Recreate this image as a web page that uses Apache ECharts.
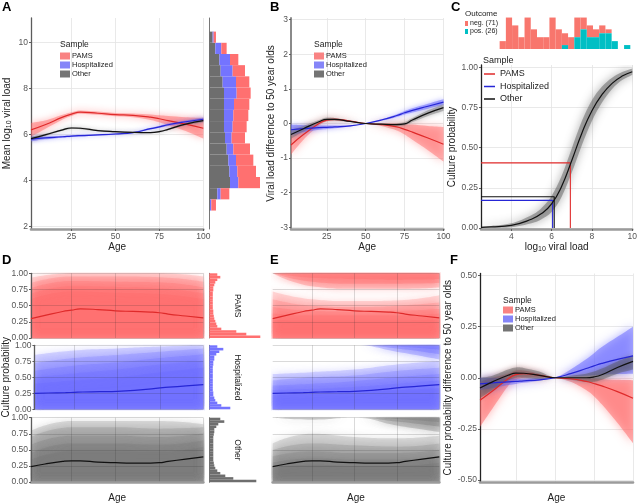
<!DOCTYPE html>
<html><head><meta charset="utf-8">
<script src="https://cdn.jsdelivr.net/npm/echarts@6/dist/echarts.min.js"></script>
<style>html,body{margin:0;padding:0;background:#fff}#c{width:640px;height:504px}</style>
</head><body><div id="c"></div>
<script>
// ================= DATA =================
const ages = [2, 10, 20, 25, 30, 40, 50, 60, 70, 75, 80, 90, 100];
// Panel A: mean log10 viral load by age
const aPams  = [6.2, 6.42, 6.75, 6.88, 6.97, 6.92, 6.86, 6.83, 6.75, 6.68, 6.6, 6.45, 6.27];
const aPamsW = [0.3, 0.18, 0.1, 0.08, 0.07, 0.07, 0.07, 0.08, 0.12, 0.15, 0.2, 0.3, 0.45];
const aHosp  = [5.8, 5.85, 5.9, 5.93, 5.95, 5.98, 6.02, 6.08, 6.25, 6.33, 6.42, 6.55, 6.66];
const aHospW = [0.1, 0.06, 0.04, 0.04, 0.04, 0.03, 0.03, 0.03, 0.04, 0.04, 0.05, 0.06, 0.08];
const aOther = [5.82, 5.98, 6.2, 6.28, 6.27, 6.17, 6.12, 6.09, 6.08, 6.12, 6.22, 6.45, 6.6];
const aOtherW= [0.08, 0.05, 0.04, 0.04, 0.04, 0.03, 0.03, 0.03, 0.03, 0.04, 0.04, 0.05, 0.07];
// Panel A marginal histogram (bins bottom -> top)
const aHistStart = 2.7, aHistWidth = 0.485;
const aHistOther = [2, 24, 62, 60, 57, 52, 47, 44, 44, 44, 44, 40, 34, 30, 18, 10];
const aHistHosp  = [4, 10, 25, 24, 23, 20, 20, 26, 28, 30, 38, 40, 36, 32, 18, 3];
const aHistPams  = [14, 26, 65, 56, 52, 50, 40, 42, 45, 46, 42, 40, 37, 25, 16, 7];
// Panel B: viral load difference to 50 year olds
const bPams  = [-0.62, -0.32, 0.0, 0.1, 0.12, 0.07, 0, -0.03, -0.1, -0.17, -0.25, -0.42, -0.6];
const bPamsW = [0.28, 0.15, 0.06, 0.04, 0.04, 0.02, 0, 0.04, 0.1, 0.15, 0.22, 0.35, 0.5];
const bHosp  = [-0.18, -0.15, -0.12, -0.11, -0.1, -0.07, 0, 0.1, 0.23, 0.31, 0.38, 0.5, 0.62];
const bHospW = [0.15, 0.1, 0.06, 0.05, 0.04, 0.02, 0, 0.02, 0.04, 0.05, 0.06, 0.07, 0.08];
const bOther = [-0.32, -0.15, 0.05, 0.12, 0.12, 0.06, 0, -0.02, -0.03, -0.01, 0.1, 0.3, 0.46];
const bOtherW= [0.12, 0.08, 0.05, 0.05, 0.04, 0.02, 0, 0.02, 0.04, 0.05, 0.06, 0.08, 0.1];
// Panel C: culture probability vs viral load
const cLoad  = [2.5, 3, 4, 5, 5.5, 6, 6.5, 7, 7.5, 8, 8.5, 9, 9.5, 10];
const cProb  = [0.004, 0.007, 0.017, 0.055, 0.09, 0.15, 0.26, 0.42, 0.59, 0.73, 0.83, 0.9, 0.945, 0.972];
const cProbW = [0.004, 0.006, 0.012, 0.025, 0.035, 0.05, 0.065, 0.075, 0.075, 0.065, 0.05, 0.035, 0.025, 0.02];
const cRefLoad = [6.93, 6.05, 6.13];   // PAMS, Hospitalized, Other
const cRefProb = [0.405, 0.172, 0.195];
const cHistStart = 3.42, cHistWidth = 0.307;
const cHistNeg = [2, 8, 6, 3, 8, 5, 3, 3, 8, 5, 3, 3, 5, 3, 3, 2, 2, 1, 0, 0, 0];
const cHistPos = [0, 0, 0, 0, 0, 0, 0, 0, 0, 0, 1, 0, 3, 5, 3, 3, 4, 4, 2, 0, 1];
// Panels D/E: culture probability by age (median lines)
const dPams  = [0.3, 0.35, 0.41, 0.43, 0.45, 0.44, 0.42, 0.41, 0.4, 0.39, 0.37, 0.34, 0.31];
const dHosp  = [0.25, 0.255, 0.26, 0.265, 0.27, 0.275, 0.28, 0.295, 0.32, 0.335, 0.345, 0.365, 0.385];
const dOther = [0.24, 0.28, 0.32, 0.33, 0.33, 0.31, 0.3, 0.295, 0.295, 0.3, 0.32, 0.355, 0.39];
const fanAges = [2, 25, 50, 75, 100];
// D fan: upper edges of nested bands from 0 (outer -> inner)
const dPamsFan  = [[0.93,1.0,1.0,1.0,0.95],[0.85,0.95,0.95,0.94,0.87],[0.77,0.88,0.87,0.86,0.78],[0.68,0.8,0.79,0.77,0.69],[0.6,0.72,0.7,0.68,0.6]];
const dHospFan  = [[0.85,0.92,0.95,0.98,1.0],[0.72,0.8,0.85,0.9,0.95],[0.6,0.68,0.73,0.8,0.86],[0.5,0.56,0.62,0.7,0.76],[0.4,0.45,0.5,0.58,0.65]];
const dOtherFan = [[0.8,0.95,0.95,0.95,0.9],[0.7,0.85,0.85,0.83,0.85],[0.58,0.72,0.72,0.7,0.76],[0.45,0.6,0.6,0.58,0.65],[0.35,0.48,0.48,0.47,0.55]];
// E fan: bands from 0 and bands down from 1
const ePamsFan  = [[0.72,0.6,0.57,0.58,0.66],[0.6,0.5,0.48,0.5,0.55],[0.48,0.42,0.41,0.42,0.45],[0.38,0.35,0.35,0.35,0.38],[0.28,0.27,0.27,0.27,0.29]];
const ePamsTop  = [[1.0,0.8,0.76,0.76,0.78],[1.0,0.87,0.84,0.84,0.85],[1.0,0.93,0.91,0.9,0.91]];
const eHospFan  = [[0.55,0.58,0.62,0.7,0.75],[0.45,0.5,0.53,0.6,0.65],[0.37,0.4,0.44,0.5,0.55],[0.3,0.32,0.35,0.4,0.45],[0.22,0.24,0.26,0.3,0.33]];
const eHospTop  = [[1.0,1.0,1.0,0.9,0.78],[1.0,1.0,1.0,0.95,0.86],[1.0,1.0,1.0,0.98,0.93]];
const eOtherFan = [[0.6,0.75,0.7,0.68,0.72],[0.5,0.6,0.57,0.55,0.6],[0.4,0.48,0.45,0.45,0.5],[0.3,0.37,0.35,0.35,0.4],[0.22,0.27,0.25,0.25,0.3]];
const eOtherTop = [[1.0,0.97,1.0,0.88,0.78],[1.0,0.99,1.0,0.94,0.86],[1.0,1.0,1.0,0.98,0.93]];
// D marginal histograms of culture probability (bins of 0.04, bottom -> top)
const dHistStart = 0, dHistWidth = 0.04;
const dHistPams  = [51, 37, 27, 12, 8, 7, 6, 5, 4.5, 4, 4, 3.5, 3.5, 3.5, 3.5, 3.5, 3.5, 3.5, 4, 4, 5, 6, 8, 11, 8];
const dHistHosp  = [21, 12, 8, 6, 5, 4, 4, 3.5, 3.5, 3.5, 3.5, 3.5, 3.5, 3.5, 3.5, 3.5, 3.5, 4, 4, 5, 5, 7, 10, 14, 8];
const dHistOther = [47, 24, 16, 11, 8, 6, 5, 4.5, 4, 4, 4, 4, 4, 4, 4, 4, 4, 4, 4.5, 5, 5, 7, 9, 15, 11];
// Panel F: culture probability difference to 50 year olds
const fPams   = [-0.11, -0.065, -0.005, 0.015, 0.02, 0.012, 0, -0.005, -0.018, -0.028, -0.04, -0.068, -0.1];
const fPamsHi = [-0.02, 0.0, 0.02, 0.035, 0.035, 0.02, 0, 0.0, -0.002, -0.004, -0.006, -0.01, -0.012];
const fPamsLo = [-0.24, -0.15, -0.04, -0.01, 0.0, 0.0, 0, -0.02, -0.06, -0.09, -0.13, -0.22, -0.32];
const fHosp   = [-0.03, -0.025, -0.02, -0.018, -0.015, -0.01, 0, 0.02, 0.045, 0.058, 0.07, 0.09, 0.107];
const fHospHi = [0.0, 0.0, -0.005, -0.005, -0.005, 0, 0, 0.04, 0.09, 0.12, 0.15, 0.2, 0.25];
const fHospLo = [-0.06, -0.05, -0.035, -0.03, -0.025, -0.015, 0, 0.005, 0.01, 0.012, 0.015, 0.018, 0.02];
const fOther  = [-0.05, -0.02, 0.012, 0.023, 0.022, 0.012, 0, 0.0, 0.0, 0.004, 0.015, 0.05, 0.08];
const fOtherHi= [0.0, 0.01, 0.04, 0.05, 0.048, 0.03, 0, 0.01, 0.02, 0.03, 0.045, 0.08, 0.11];
const fOtherLo= [-0.1, -0.06, -0.015, 0.0, 0.0, -0.005, 0, -0.01, -0.02, -0.02, -0.01, 0.02, 0.04];
const ageTicks = [25, 50, 75, 100];
const groups = ['PAMS', 'Hospitalized', 'Other'];

// ================= STYLE / BUILD =================
const FONT = 'Liberation Sans';
const LINE = {PAMS:'#df2a2a', Hospitalized:'#2626d6', Other:'#111111'};
const FILL = {PAMS:'#ff6464', Hospitalized:'#6464ff', Other:'#6a6a6a'};
const KEY  = {PAMS:'#f98383', Hospitalized:'#8585f8', Other:'#747474'};
const HIST = {PAMS:'#ff7070', Hospitalized:'#7474ff', Other:'#6e6e6e'};

function merge(a, b) {
  for (const k in b) {
    if (b[k] && typeof b[k] === 'object' && !Array.isArray(b[k]) && a[k] && typeof a[k] === 'object' && !Array.isArray(a[k])) merge(a[k], b[k]);
    else a[k] = b[k];
  }
  return a;
}
function axisBase() {
  return {type:'value', nameLocation:'middle',
    axisLine:{show:true, onZero:false, lineStyle:{color:'#5c5c5c', width:1.3}},
    axisTick:{show:true, length:2, lineStyle:{color:'#5c5c5c'}},
    axisLabel:{color:'#555', fontSize:8.5, fontFamily:FONT, margin:3},
    splitLine:{show:true, lineStyle:{color:'#e3e3e3', width:0.8}},
    nameTextStyle:{color:'#222', fontSize:10, fontFamily:FONT}};
}
const grids = [], xAxes = [], yAxes = [], series = [];
function addGrid(box, xo, yo) {
  const gi = grids.length;
  grids.push(box);
  xAxes.push(merge(merge(axisBase(), {gridIndex:gi}), xo));
  yAxes.push(merge(merge(axisBase(), {gridIndex:gi}), yo));
  return gi;
}
const bottomLine = {lineStyle:{color:'#9b9b9b', width:2.6}};
const hidden = {show:false};
const subRich = {s:{fontSize:7, fontFamily:FONT, color:'#222', verticalAlign:'bottom', padding:[5,0,0,0]}};

function line(name, gi, xs, ys, z) {
  return {type:'line', name, xAxisIndex:gi, yAxisIndex:gi, smooth:true, symbol:'none', silent:true,
    data:xs.map((x,i)=>[x, ys[i]]), lineStyle:{color:LINE[name], width:1.2}, itemStyle:{color:LINE[name]}, z:z||6};
}
// smooth path through pixel points (Catmull-Rom as cubic Bezier)
function smoothPath(pts, start) {
  let d = (start ? 'M' : 'L') + pts[0][0] + ' ' + pts[0][1];
  for (let i = 0; i < pts.length - 1; i++) {
    const p0 = pts[i-1] || pts[i], p1 = pts[i], p2 = pts[i+1], p3 = pts[i+2] || pts[i+1];
    d += ' C' + (p1[0] + (p2[0]-p0[0])/6) + ' ' + (p1[1] + (p2[1]-p0[1])/6) + ' ' +
         (p2[0] - (p3[0]-p1[0])/6) + ' ' + (p2[1] - (p3[1]-p1[1])/6) + ' ' + p2[0] + ' ' + p2[1];
  }
  return d;
}
// band between lo and hi, drawn through the axes' scales
function band(name, gi, xs, lo, hi, color, opacity, blur) {
  const data = xs.map((x,i)=>[x, lo[i], hi[i]]);
  return {type:'custom', name, xAxisIndex:gi, yAxisIndex:gi, silent:true, clip:true, z:2,
    encode:{x:0, y:[1,2]}, data, itemStyle:{color},
    renderItem:(params, api) => {
      if (params.dataIndex !== 0) return null;
      const top = data.map(d => api.coord([d[0], d[2]]));
      const bot = data.map(d => api.coord([d[0], d[1]])).reverse();
      return {type:'path', shape:{pathData: smoothPath(top, true) + ' ' + smoothPath(bot, false) + ' Z'},
        style:{fill:color, opacity, shadowBlur:blur, shadowColor:color}};
    }};
}
function ribbon(name, gi, xs, mid, w, color, opacity, blur) {
  return band(name, gi, xs, mid.map((m,i)=>m-w[i]), mid.map((m,i)=>m+w[i]), color, opacity, blur);
}
function fan(name, gi, xs, edge, origin, color, opacity) {
  return {type:'line', name, xAxisIndex:gi, yAxisIndex:gi, smooth:true, symbol:'none', silent:true,
    lineStyle:{opacity:0}, areaStyle:{color, opacity, origin, shadowBlur:9, shadowColor:color},
    data:xs.map((x,i)=>[x, edge[i]]), z:1};
}
function rectItem(params, api) {
  const p0 = api.coord([api.value(0), api.value(1)]);
  const p1 = api.coord([api.value(2), api.value(3)]);
  return {type:'rect', shape:{x:Math.min(p0[0],p1[0]), y:Math.min(p0[1],p1[1]),
    width:Math.abs(p1[0]-p0[0]), height:Math.abs(p1[1]-p0[1])}, style:{fill:api.visual('color')}};
}
function rects(name, gi, data, color) {
  return {type:'custom', name, xAxisIndex:gi, yAxisIndex:gi, renderItem:rectItem,
    encode:{x:[0,2], y:[1,3]}, itemStyle:{color}, data, silent:true, z:3};
}
const ageX = {min:2, max:100, axisTick:{customValues:ageTicks}, axisLabel:{customValues:ageTicks}};

// ---- Panel A ----
const gA = addGrid({left:31, top:18, width:172.3, height:211},
  merge({name:'Age', nameGap:12, axisLine:bottomLine}, ageX),
  {min:1.9, max:11.05, axisTick:{customValues:[2,4,6,8,10]}, axisLabel:{customValues:[2,4,6,8,10]},
   name:'Mean log{s|10} viral load', nameGap:18, nameTextStyle:{rich:subRich}});
series.push(ribbon('PAMS', gA, ages, aPams, aPamsW, FILL.PAMS, 0.45, 7));
series.push(ribbon('Hospitalized', gA, ages, aHosp, aHospW, FILL.Hospitalized, 0.5, 4));
series.push(ribbon('Other', gA, ages, aOther, aOtherW, FILL.Other, 0.4, 4));
series.push(line('PAMS', gA, ages, aPams), line('Hospitalized', gA, ages, aHosp), line('Other', gA, ages, aOther));

const gAh = addGrid({left:209.3, top:18, width:52.7, height:211},
  {min:0, max:158, show:false},
  {min:1.9, max:11.05, axisTick:hidden, axisLabel:hidden, splitLine:hidden, axisLine:{lineStyle:{color:'#777', width:1}}});
const hO = [], hH = [], hP = [];
aHistOther.forEach((g, i) => {
  const lo = aHistStart + i*aHistWidth, hi = lo + aHistWidth, b = aHistHosp[i], r = aHistPams[i];
  hO.push([0, lo, g, hi]); hH.push([g, lo, g+b, hi]); hP.push([g+b, lo, g+b+r, hi]);
});
series.push(rects('Other', gAh, hO, HIST.Other), rects('Hospitalized', gAh, hH, HIST.Hospitalized), rects('PAMS', gAh, hP, HIST.PAMS));

// ---- Panel B ----
const gB = addGrid({left:291, top:18, width:152.5, height:211},
  merge({name:'Age', nameGap:12, axisLine:bottomLine}, ageX),
  {min:-3.05, max:3.05, axisTick:{customValues:[-3,-2,-1,0,1,2,3]}, axisLabel:{customValues:[-3,-2,-1,0,1,2,3]},
   name:'Viral load difference to 50 year olds', nameGap:13, axisLine:{lineStyle:{color:'#8a8a8a', width:2}}});
series.push(ribbon('PAMS', gB, ages, bPams, bPamsW, FILL.PAMS, 0.45, 9));
series.push(ribbon('Hospitalized', gB, ages, bHosp, bHospW, FILL.Hospitalized, 0.5, 5));
series.push(ribbon('Other', gB, ages, bOther, bOtherW, FILL.Other, 0.4, 5));
series.push(line('PAMS', gB, ages, bPams), line('Hospitalized', gB, ages, bHosp), line('Other', gB, ages, bOther));

// ---- Panel C ----
const gCh = addGrid({left:481, top:14, width:152, height:35}, {min:2.5, max:10, show:false}, {min:0, max:8.9, show:false});
const cNeg = [], cPos = [];
cHistNeg.forEach((n, i) => {
  const lo = cHistStart + i*cHistWidth, hi = lo + cHistWidth, p = cHistPos[i];
  if (p > 0) cPos.push([lo, 0, hi, p]);
  if (n > 0) cNeg.push([lo, p, hi, p+n]);
});
series.push(rects('neg. (71)', gCh, cNeg, '#f8766d'), rects('pos. (26)', gCh, cPos, '#00bfc4'));

const gC = addGrid({left:481, top:65, width:152, height:164},
  {min:2.5, max:10, axisTick:{customValues:[4,6,8,10]}, axisLabel:{customValues:[4,6,8,10]}, axisLine:bottomLine,
   name:'log{s|10} viral load', nameGap:12, nameTextStyle:{rich:subRich}},
  {min:-0.006, max:1.014, axisTick:{customValues:[0,0.25,0.5,0.75,1]},
   axisLabel:{customValues:[0,0.25,0.5,0.75,1], formatter:v=>v.toFixed(2)},
   name:'Culture probability', nameGap:20, axisLine:{lineStyle:{color:'#222', width:1.3}}});
series.push(ribbon('Other', gC, cLoad, cProb, cProbW, '#555555', 0.45, 10));
series.push(line('Other', gC, cLoad, cProb, 7));
groups.forEach((g, i) => {
  series.push({type:'line', name:g, xAxisIndex:gC, yAxisIndex:gC, symbol:'none', silent:true, z:5,
    data:[[2.5, cRefProb[i]], [cRefLoad[i], cRefProb[i]], [cRefLoad[i], 0]],
    lineStyle:{color:LINE[g], width:1.1}, itemStyle:{color:LINE[g]}});
});

// ---- Panels D / E ----
const facetBoxes = [{top:273.3, height:64.7}, {top:345.3, height:64}, {top:417.7, height:64.6}];
const dLines = [dPams, dHosp, dOther];
const dFans = [dPamsFan, dHospFan, dOtherFan];
const eFans = [ePamsFan, eHospFan, eOtherFan];
const eTops = [ePamsTop, eHospTop, eOtherTop];
const dHists = [dHistPams, dHistHosp, dHistOther];
const facetGrid = 'rgba(40,40,40,0.22)';
const FANOP = {PAMS:0.21, Hospitalized:0.21, Other:0.19};
groups.forEach((g, k) => {
  const last = k === 2;
  const xo = merge({z:3, splitLine:{lineStyle:{color:facetGrid}}}, ageX);
  if (last) merge(xo, {axisLine:bottomLine, name:'Age', nameGap:11});
  else merge(xo, {axisLine:hidden, axisTick:{show:false}, axisLabel:{show:false}});
  // D
  const yo = {min:0, max:1, interval:0.25, z:3, axisLabel:{formatter:v=>v.toFixed(2)}, splitLine:{lineStyle:{color:facetGrid}}};
  if (k === 1) merge(yo, {name:'Culture probability', nameGap:18});
  const gD = addGrid(merge({left:31, width:172.3}, facetBoxes[k]), merge({}, xo), yo);
  dFans[k].forEach(edge => series.push(fan(g, gD, fanAges, edge, 'start', FILL[g], FANOP[g])));
  series.push(line(g, gD, ages, dLines[k]));
  // D histogram
  const gDh = addGrid(merge({left:209.3, width:53}, facetBoxes[k]), {min:0, max:53, show:false},
    {min:0, max:1, axisTick:hidden, axisLabel:hidden, splitLine:hidden, axisLine:{lineStyle:{color:'#777', width:1}}});
  series.push(rects(g, gDh, dHists[k].map((v, i) => [0, dHistStart + i*dHistWidth, v, dHistStart + (i+1)*dHistWidth]), HIST[g]));
  // E
  const gE = addGrid(merge({left:272.7, width:166.6}, facetBoxes[k]), merge({}, xo),
    {min:0, max:1, interval:0.25, z:3, axisLine:hidden, axisTick:hidden, axisLabel:hidden, splitLine:{lineStyle:{color:facetGrid}}});
  eFans[k].forEach(edge => series.push(fan(g, gE, fanAges, edge, 'start', FILL[g], FANOP[g])));
  eTops[k].forEach(edge => series.push(fan(g, gE, fanAges, edge, 'end', FILL[g], FANOP[g] + 0.1)));
  series.push(line(g, gE, ages, dLines[k]));
});

// ---- Panel F ----
const gF = addGrid({left:480, top:273.5, width:153, height:210.5},
  merge({name:'Age', nameGap:11, axisLine:bottomLine}, ageX),
  {min:-0.51, max:0.51, axisTick:{customValues:[-0.5,-0.25,0,0.25,0.5]},
   axisLabel:{customValues:[-0.5,-0.25,0,0.25,0.5], formatter:v=>v.toFixed(2)},
   name:'Culture probability difference to 50 year olds', nameGap:20, axisLine:{lineStyle:{color:'#222', width:1.3}}});
series.push(band('PAMS', gF, ages, fPamsLo, fPamsHi, FILL.PAMS, 0.5, 10));
series.push(band('Hospitalized', gF, ages, fHospLo, fHospHi, FILL.Hospitalized, 0.5, 10));
series.push(band('Other', gF, ages, fOtherLo, fOtherHi, '#505050', 0.4, 5));
series.push(line('PAMS', gF, ages, fPams), line('Hospitalized', gF, ages, fHosp), line('Other', gF, ages, fOther));

// ---- Titles, legends, strip labels ----
const letter = {fontSize:13, fontWeight:'bold', color:'#000', fontFamily:FONT};
const small = sz => ({fontSize:sz, fontWeight:'normal', color:'#222', fontFamily:FONT});
const titles = [
  {text:'A', left:2, top:1, textStyle:letter}, {text:'B', left:270, top:1, textStyle:letter},
  {text:'C', left:451, top:1, textStyle:letter}, {text:'D', left:2, top:254, textStyle:letter},
  {text:'E', left:270, top:254, textStyle:letter}, {text:'F', left:450, top:254, textStyle:letter},
  {text:'Sample', left:60, top:40, textStyle:small(8.5)}, {text:'Sample', left:314, top:40, textStyle:small(8.5)},
  {text:'Sample', left:483, top:56, textStyle:small(9)}, {text:'Sample', left:503, top:296, textStyle:small(8.5)},
  {text:'Outcome', left:465, top:10, textStyle:small(8)}
].map(t => Object.assign({padding:0}, t));
function boxLegend(left, top) {
  return {left, top, orient:'vertical', padding:0, itemWidth:10, itemHeight:7, itemGap:1, selectedMode:false,
    textStyle:{fontSize:7.5, fontFamily:FONT, color:'#222', padding:[0,0,0,-3], lineHeight:7},
    data:groups.map(g => ({name:g, icon:'rect', itemStyle:{color:KEY[g]}}))};
}
const legends = [
  boxLegend(60, 52), boxLegend(314, 52), boxLegend(503, 306),
  {left:484, top:69, orient:'vertical', padding:0, itemWidth:11, itemHeight:1.5, itemGap:2.5, selectedMode:false,
   textStyle:{fontSize:9, fontFamily:FONT, color:'#222', lineHeight:10},
   data:groups.map(g => ({name:g, icon:'rect', itemStyle:{color:LINE[g]}}))},
  {left:465, top:20, orient:'vertical', padding:0, itemWidth:3, itemHeight:5, itemGap:1, selectedMode:false,
   textStyle:{fontSize:7, fontFamily:FONT, color:'#222', padding:[0,0,0,-3], lineHeight:6},
   data:[{name:'neg. (71)', icon:'rect', itemStyle:{color:'#f8766d'}}, {name:'pos. (26)', icon:'rect', itemStyle:{color:'#00bfc4'}}]}
];
const graphic = groups.map((g, k) => ({type:'text', x:237, y:facetBoxes[k].top + facetBoxes[k].height/2,
  rotation:-Math.PI/2, silent:true,
  style:{text:g, fill:'#222', fontSize:8.5, fontFamily:FONT, align:'center', verticalAlign:'middle'}}));

const chart = echarts.init(document.getElementById('c'), null, {renderer:'canvas', width:640, height:504});
chart.setOption({
  animation:false, backgroundColor:'#fff',
  title:titles, legend:legends, graphic,
  grid:grids.map(g => Object.assign({containLabel:false}, g)),
  xAxis:xAxes, yAxis:yAxes, series
});
</script></body></html>
